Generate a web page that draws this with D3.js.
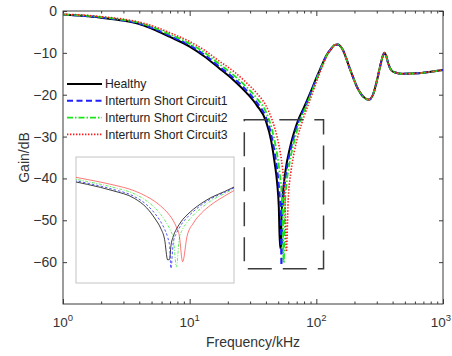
<!DOCTYPE html>
<html>
<head>
<meta charset="utf-8">
<script src="https://cdnjs.cloudflare.com/ajax/libs/d3/7.8.5/d3.min.js"></script>
<style>
  body { margin: 0; background: #fff; }
  svg { font-family: Arial, "Liberation Sans", sans-serif; }
</style>
</head>
<body>
<div id="graph"></div>
<script>
// frequency grid (kHz) for the part where the four curves differ
var freq = [1, 1.5, 2, 3, 4, 5, 7, 10, 13, 17, 22, 28, 34, 40, 44, 47, 49, 50.5,
  51.7, 52.5, 53, 54, 55.3, 56.5, 58, 60, 63, 67, 72, 80, 90, 100, 110, 120];

var healthy = [-0.9, -1.2, -1.6, -2.3, -3.1, -4.2, -6.2, -8.5, -10.8, -13.6, -16.4, -19.5, -22.6, -26.3, -31, -36.5, -41, -46.5,
  -56.6, -56.3, -50, -45, -41.5, -39.2, -36.8, -34.5, -31.7, -28.8, -26, -23, -19.4, -16, -13.1, -10.6];
var isc1 = [-0.9, -1.2, -1.55, -2.25, -3.0, -4.0, -5.95, -8.2, -10.4, -13.2, -15.9, -18.9, -21.9, -25.4, -29.5, -34, -37.8, -41.5,
  -45.5, -50, -60.8, -48, -43.5, -41, -38.3, -35.8, -32.8, -29.6, -26.6, -23.4, -19.7, -16.2, -13.2, -10.7];
var isc2 = [-0.85, -1.1, -1.45, -2.1, -2.85, -3.75, -5.6, -7.8, -9.9, -12.6, -15.2, -18.1, -20.9, -24.1, -27.6, -31.2, -34.2, -36.9,
  -39.4, -41.2, -42.6, -46, -60.1, -46.5, -41.5, -38.2, -34.6, -31, -27.6, -24, -20.1, -16.5, -13.4, -10.8];
var isc3 = [-0.8, -1.0, -1.35, -1.95, -2.65, -3.5, -5.2, -7.3, -9.3, -11.9, -14.3, -17.1, -19.7, -22.6, -25.4, -28, -30.1, -31.9,
  -33.5, -34.7, -35.5, -37.4, -40.5, -44.5, -57.5, -45, -38.5, -33.6, -29.6, -25.2, -20.9, -17, -13.7, -11];

// above ~120 kHz all four curves lie on top of each other
var tailFreq = [132, 140, 148, 160, 185, 210, 235, 260, 280, 300, 320, 335, 345, 355, 370, 390, 420, 480, 620, 800, 1000];
var tailGain = [-8.9, -8.1, -8.0, -9.0, -14.0, -18.2, -20.5, -21.2, -20.0, -16.8, -13.0, -10.7, -10.0, -10.6, -12.6, -14.1, -14.7, -15.0, -14.9, -14.5, -14.1];

var seriesNames = ["Healthy", "Interturn Short Circuit1", "Interturn Short Circuit2", "Interturn Short Circuit3"];
var yTicks = [0, -10, -20, -30, -40, -50, -60];
var xMajor = [1, 10, 100, 1000];
var xLabelExp = ["0", "1", "2", "3"];
var zoomBox = { f0: 27, f1: 114, g0: -26, g1: -61.6 };

var styles = [
  { color: "#000000", dash: null, w: 2, iw: 0.9, idash: null },
  { color: "#1f1fff", dash: "6,3.5", w: 2, iw: 0.9, idash: "2.5,2" },
  { color: "#19e619", dash: "6,2,1.5,2", w: 1.8, iw: 0.8, idash: "3,1.5,1,1.5" },
  { color: "#ff1a1a", dash: "1.4,1.6", w: 1.6, iw: 0.7, idash: null }
];

var gains = [healthy, isc1, isc2, isc3];
var series = gains.map(function(g, i) {
  var pts = freq.map(function(f, j) { return [f, g[j]]; });
  tailFreq.forEach(function(f, j) { pts.push([f, tailGain[j]]); });
  return { name: seriesNames[i], pts: pts, st: styles[i] };
});

var W = 452, H = 356;
var L = 63, R = 443, T = 11, B = 304;

var svg = d3.select("#graph").append("svg").attr("width", W).attr("height", H);

var x = d3.scaleLog().domain([1, 1000]).range([L, R]);
var y = d3.scaleLinear().domain([-70, 0]).range([B, T]);

var axisColor = "#3a3a3a";

// minor log ticks
var minor = [];
[1, 10, 100].forEach(function(d) { for (var k = 2; k <= 9; k++) minor.push(d * k); });

function styleAxis(g) {
  g.select(".domain").remove();
  g.selectAll("line").attr("stroke", axisColor);
  g.selectAll("text").attr("fill", "#333").attr("font-size", 14);
}

svg.append("g").attr("transform", "translate(0," + B + ")")
  .call(d3.axisBottom(x).tickValues(minor).tickSize(-2.5).tickFormat("")).call(styleAxis);
svg.append("g").attr("transform", "translate(0," + T + ")")
  .call(d3.axisTop(x).tickValues(minor).tickSize(-2.5).tickFormat("")).call(styleAxis);
svg.append("g").attr("transform", "translate(0," + B + ")")
  .call(d3.axisBottom(x).tickValues(xMajor).tickSize(-5).tickFormat("")).call(styleAxis);
svg.append("g").attr("transform", "translate(0," + T + ")")
  .call(d3.axisTop(x).tickValues(xMajor).tickSize(-5).tickFormat("")).call(styleAxis);
svg.append("g").attr("transform", "translate(" + L + ",0)")
  .call(d3.axisLeft(y).tickValues(yTicks).tickSize(-4).tickPadding(6)).call(styleAxis);
svg.append("g").attr("transform", "translate(" + R + ",0)")
  .call(d3.axisRight(y).tickValues(yTicks).tickSize(-4).tickFormat("")).call(styleAxis);

svg.append("rect")
  .attr("x", L).attr("y", T).attr("width", R - L).attr("height", B - T)
  .attr("fill", "none").attr("stroke", axisColor).attr("stroke-width", 1);

// x tick labels 10^n (last one kept inside the page)
xMajor.forEach(function(d, i) {
  var last = i === xMajor.length - 1;
  var t = svg.append("text").attr("x", last ? W - 1 : x(d)).attr("y", B + 23)
    .attr("text-anchor", last ? "end" : "middle").attr("fill", "#333").attr("font-size", 13.5);
  t.append("tspan").text("10");
  t.append("tspan").attr("dy", -6).attr("font-size", 9.5).text(xLabelExp[i]);
});

svg.append("text").attr("x", (L + R) / 2).attr("y", 347)
  .attr("text-anchor", "middle").attr("fill", "#333").attr("font-size", 14)
  .text("Frequency/kHz");
svg.append("text").attr("transform", "translate(29," + ((T + B) / 2) + ") rotate(-90)")
  .attr("text-anchor", "middle").attr("fill", "#333").attr("font-size", 14)
  .text("Gain/dB");

// clip
svg.append("clipPath").attr("id", "plotclip").append("rect")
  .attr("x", L).attr("y", T).attr("width", R - L).attr("height", B - T);

var line = d3.line().curve(d3.curveMonotoneX)
  .x(function(d) { return x(d[0]); }).y(function(d) { return y(d[1]); });

svg.append("g").attr("clip-path", "url(#plotclip)")
  .selectAll("path").data(series).enter().append("path")
  .attr("d", function(d) { return line(d.pts); })
  .attr("fill", "none")
  .attr("stroke", function(d) { return d.st.color; })
  .attr("stroke-width", function(d) { return d.st.w; })
  .attr("stroke-dasharray", function(d) { return d.st.dash; });

// dashed zoom region
svg.append("rect")
  .attr("x", x(zoomBox.f0)).attr("y", y(zoomBox.g0))
  .attr("width", x(zoomBox.f1) - x(zoomBox.f0)).attr("height", y(zoomBox.g1) - y(zoomBox.g0))
  .attr("fill", "none").attr("stroke", "#3c3c3c").attr("stroke-width", 1.5)
  .attr("stroke-dasharray", "24,11");

// inset
var IL = 76, IR = 234, IT = 157, IB = 283;
var xi = d3.scaleLog().domain([25.6, 86]).range([IL, IR]);
var yi = d3.scaleLinear().domain([-68, -6]).range([IB, IT]);

svg.append("rect").attr("x", IL).attr("y", IT).attr("width", IR - IL).attr("height", IB - IT)
  .attr("fill", "#fff").attr("stroke", "#c4c4c4").attr("stroke-width", 1);
svg.append("clipPath").attr("id", "insetclip").append("rect")
  .attr("x", IL).attr("y", IT).attr("width", IR - IL).attr("height", IB - IT);

var lineI = d3.line().curve(d3.curveMonotoneX)
  .x(function(d) { return xi(d[0]); }).y(function(d) { return yi(d[1]); });

svg.append("g").attr("clip-path", "url(#insetclip)")
  .selectAll("path").data(series).enter().append("path")
  .attr("d", function(d) { return lineI(d.pts); })
  .attr("fill", "none")
  .attr("stroke", function(d) { return d.st.color; })
  .attr("stroke-opacity", 0.85)
  .attr("stroke-width", function(d) { return d.st.iw; })
  .attr("stroke-dasharray", function(d) { return d.st.idash; });

// legend
var lg = svg.append("g").selectAll("g").data(series).enter().append("g")
  .attr("transform", function(d, i) { return "translate(67," + (84 + i * 16.8) + ")"; });
lg.append("line").attr("x1", 0).attr("x2", 35).attr("y1", 0).attr("y2", 0)
  .attr("stroke", function(d) { return d.st.color; })
  .attr("stroke-width", function(d) { return d.st.w; })
  .attr("stroke-dasharray", function(d) { return d.st.dash; });
lg.append("text").attr("x", 38).attr("y", 4.3).attr("font-size", 12.2).attr("fill", "#222")
  .text(function(d) { return d.name; });
</script>
</body>
</html>
